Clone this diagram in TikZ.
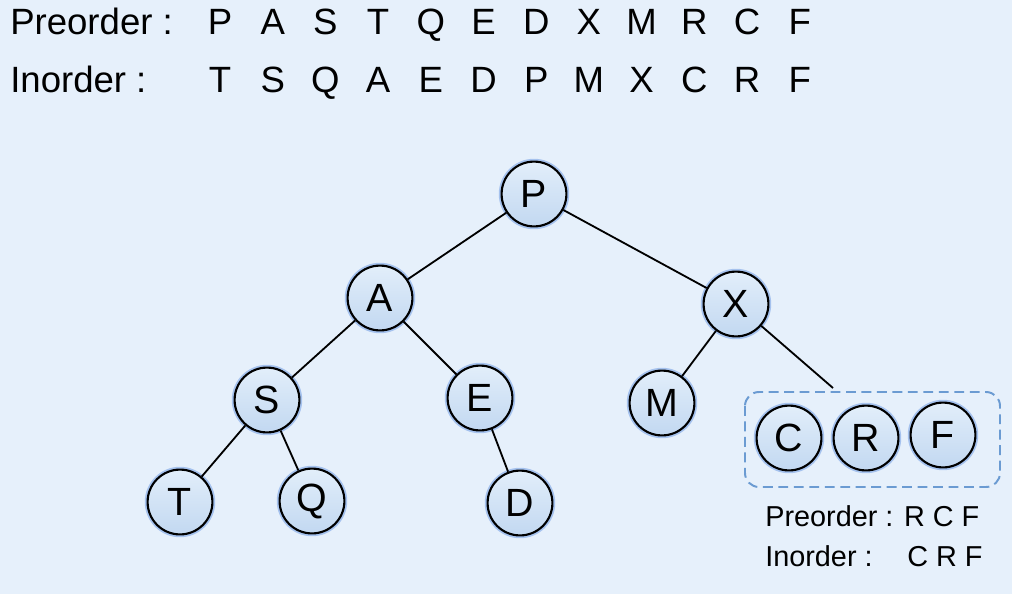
\documentclass[tikz,border=0pt]{standalone}
\usepackage{fontspec}
\setmainfont{Liberation Sans}
\usetikzlibrary{positioning}
\definecolor{bgblue}{HTML}{E6F0FB}
\definecolor{nodetop}{HTML}{E2EEFA}
\definecolor{nodebot}{HTML}{C2D8F1}
\definecolor{glowblue}{HTML}{7BA4E6}
\definecolor{boxblue}{HTML}{6B9BD2}
\begin{document}
\begin{tikzpicture}[x=0.025cm,y=-0.025cm,
 tnode/.style={circle,draw=black,line width=1.5pt,top color=nodetop,bottom color=nodebot,
  minimum size=1.62cm,inner sep=0pt,font=\fontsize{28}{28}\selectfont,
  preaction={draw=glowblue,line width=4pt,opacity=0.6}},
 link/.style={line width=1.3pt},
 bigtxt/.style={anchor=base,inner sep=0pt,font=\fontsize{26}{30}\selectfont},
 smalltxt/.style={anchor=base west,inner sep=0pt,font=\fontsize{20.5}{24}\selectfont}]
 \fill[bgblue](0,0) rectangle (1012,594);
 \useasboundingbox (0,0) rectangle (1012,594);
 \node[bigtxt,anchor=base west] (prelabel) at (10,34) {Preorder :};
 \node[bigtxt,anchor=base west] (inlabel) at (10,92) {Inorder :};
 \foreach \l [count=\i from 0] in {P,A,S,T,Q,E,D,X,M,R,C,F}
  \node[bigtxt] (pre\i) at (220+52.7*\i,34) {\l};
 \foreach \l [count=\i from 0] in {T,S,Q,A,E,D,P,M,X,C,R,F}
  \node[bigtxt] (in\i) at (220+52.7*\i,92) {\l};
 \node[tnode] (P) at (534,194) {P};
 \node[tnode] (A) at (380,298) {A};
 \node[tnode] (X) at (736,304) {X};
 \node[tnode] (S) at (267,400) {S};
 \node[tnode] (E) at (480,398) {E};
 \node[tnode] (M) at (662,403) {M};
 \node[tnode] (T) at (180,502) {T};
 \node[tnode] (Q) at (312,501) {Q};
 \node[tnode] (D) at (520,503) {D};
 \node[tnode] (C) at (789,438) {C};
 \node[tnode] (R) at (866,438) {R};
 \node[tnode] (F) at (943,435) {F};
 \coordinate (xend) at (833,388);
 \draw[link] (P)--(A);
 \draw[link] (P)--(X);
 \draw[link] (A)--(S);
 \draw[link] (A)--(E);
 \draw[link] (S)--(T);
 \draw[link] (S)--(Q);
 \draw[link] (E)--(D);
 \draw[link] (X)--(M);
 \draw[link] (X)--(xend);
 \draw[boxblue,line width=1.4pt,dash pattern=on 7pt off 4pt,rounded corners=0.35cm](745,392) rectangle (1000,487);
 \node[smalltxt] (subpre) at (765,526) {Preorder : R C F};
 \node[smalltxt] (subin) at (765,566) {Inorder :};
 \node[smalltxt] (subinval) at (907,566) {C R F};
\end{tikzpicture}
\end{document}
